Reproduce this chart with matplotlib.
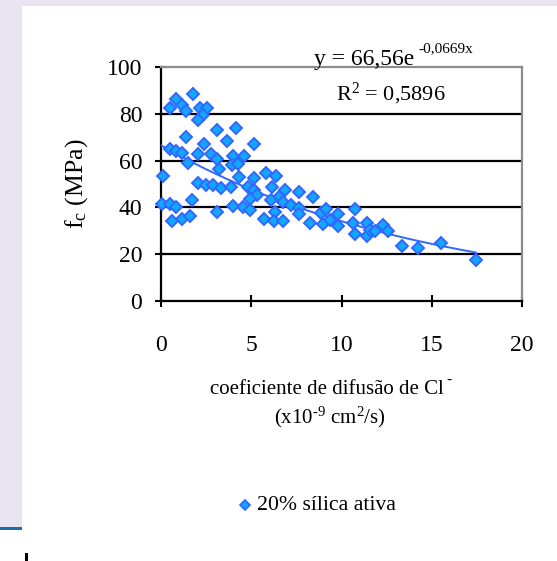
import numpy as np
import matplotlib
matplotlib.use("Agg")
import matplotlib.pyplot as plt
from matplotlib.patches import Rectangle
from matplotlib.lines import Line2D

# Chloride diffusion coefficient (x10^-9 cm2/s) vs compressive strength fc (MPa)
diff_coef = [
    1.80, 0.82, 0.48, 1.15, 1.38, 2.15, 2.56, 2.30, 2.07, 3.10,
    4.14, 1.38, 2.40, 3.66, 5.15, 0.48, 0.83, 1.17, 2.07, 2.76,
    3.09, 4.00, 4.60, 1.52, 3.95, 4.24, 3.20, 0.13, 4.33, 5.15,
    5.82, 6.38, 2.06, 2.52, 2.86, 3.31, 3.90, 4.80, 5.15, 6.17,
    6.85, 5.30, 4.92, 6.54, 6.12, 7.66, 8.43, 1.70, 0.04, 0.48,
    0.85, 4.00, 4.55, 4.92, 6.76, 7.22, 7.64, 7.66, 8.88, 9.13,
    3.09, 6.30, 9.82, 0.59, 1.14, 1.60, 5.73, 6.27, 6.76, 8.23,
    8.99, 9.36, 9.81, 10.73, 10.64, 10.75, 11.42, 11.42, 11.60, 11.88,
    12.30, 12.58, 13.36, 14.25, 15.54, 17.44,
]
fc = [
    88.5, 86.5, 82.3, 83.8, 81.0, 82.5, 82.5, 79.5, 77.2, 73.1,
    74.1, 70.0, 67.1, 68.3, 67.0, 65.0, 64.1, 63.1, 63.0, 63.0,
    60.6, 61.8, 61.8, 59.0, 58.0, 58.6, 56.2, 53.5, 52.9, 52.6,
    54.6, 53.5, 50.5, 49.6, 49.6, 48.5, 48.7, 48.7, 47.3, 48.7,
    47.5, 45.1, 43.5, 44.5, 43.3, 46.5, 44.5, 43.3, 41.3, 41.3,
    40.3, 40.5, 40.3, 39.0, 42.1, 41.0, 39.6, 37.1, 37.5, 39.3,
    38.2, 38.2, 37.3, 34.2, 35.0, 36.2, 35.1, 34.2, 34.2, 33.3,
    33.1, 34.5, 32.1, 39.3, 33.5, 28.7, 33.3, 27.9, 30.2, 30.0,
    32.3, 29.8, 23.6, 22.5, 25.0, 17.5,
]

# Exponential trend line: y = a * exp(b * x)
trend_a = 66.56
trend_b = -0.0669
trend_eq = "y = 66,56e"
trend_exp = "-0,0669x"
r_squared = "0,5896"
series_name = "20% sílica ativa"

x_ticks = [0, 5, 10, 15, 20]
y_ticks = [0, 20, 40, 60, 80, 100]

W, H = 557, 561
plt.rcParams["font.family"] = ["Liberation Serif", "DejaVu Serif"]
plt.rcParams["mathtext.fontset"] = "custom"
plt.rcParams["mathtext.rm"] = "Liberation Serif"
plt.rcParams["mathtext.it"] = "Liberation Serif:italic"

fig = plt.figure(figsize=(W / 100, H / 100), dpi=100)
fig.patch.set_facecolor("white")


def fx(px):
    return px / W


def fy(py):
    return 1 - py / H


lavender = "#E8E4F2"
marker_fill = "#10A8FF"
marker_edge = "#3366FF"

# Page frame around the chart
fig.patches.append(Rectangle((0, fy(6)), 1, 6 / H, transform=fig.transFigure,
                             facecolor=lavender, edgecolor="none", zorder=0))
fig.patches.append(Rectangle((0, fy(528)), fx(22), 528 / H, transform=fig.transFigure,
                             facecolor=lavender, edgecolor="none", zorder=0))
fig.patches.append(Rectangle((0, fy(530)), fx(22), 3 / H, transform=fig.transFigure,
                             facecolor="#1F6BA5", edgecolor="none", zorder=1))
fig.patches.append(Rectangle((fx(25), fy(561)), fx(3), 8 / H, transform=fig.transFigure,
                             facecolor="black", edgecolor="none", zorder=1))

ax = fig.add_axes([fx(161), fy(301), fx(522 - 161), (301 - 67) / H])
ax.set_xlim(0, 20)
ax.set_ylim(0, 100)

fs = 16
tick_fs = 17
ax.set_xticks(x_ticks)
ax.set_yticks(y_ticks)
ax.tick_params(axis="both", direction="inout", length=9, width=1.5, color="black",
               labelsize=tick_fs)
ax.tick_params(axis="y", pad=9)
ax.tick_params(axis="x", pad=20)

for y in y_ticks[1:-1]:
    ax.axhline(y, color="black", lw=1.6, zorder=1)

for side in ("left", "bottom"):
    ax.spines[side].set_color("black")
    ax.spines[side].set_linewidth(1.6)
for side in ("top", "right"):
    ax.spines[side].set_color("#8C8C8C")
    ax.spines[side].set_linewidth(1.6)

xs = np.linspace(0, max(diff_coef), 200)
ax.plot(xs, trend_a * np.exp(trend_b * xs), color=marker_edge, lw=1.4, zorder=3)
ax.plot(diff_coef, fc, linestyle="none", marker="D", markersize=6,
        markerfacecolor=marker_fill, markeredgecolor=marker_edge, markeredgewidth=1.4,
        zorder=4, clip_on=False)

# Trend equation and R²
fig.text(fx(314), fy(65), trend_eq, fontsize=17, ha="left", va="baseline")
fig.text(fx(418), fy(52), trend_exp, fontsize=11, ha="left", va="baseline")
fig.text(fx(391), fy(94), r"R$^{2}$ = " + r_squared, fontsize=fs,
         ha="center", va="center")

# Axis titles
fig.text(fx(77), fy(184), r"f$_{\mathrm{c}}$ (MPa)", fontsize=18.5, rotation=90,
         ha="center", va="center")
fig.text(fx(210), fy(394), "coeficiente de difusão de Cl", fontsize=15,
         ha="left", va="baseline")
fig.text(fx(446), fy(384), "-", fontsize=11, ha="left", va="baseline")
fig.text(fx(330), fy(417), r"(x10$^{\text{-9}}$ cm$^{2}$/s)", fontsize=15,
         ha="center", va="center")

# Legend
fig.add_artist(Line2D([fx(245)], [fy(505)], transform=fig.transFigure, marker="D",
                      markersize=5, markerfacecolor=marker_fill,
                      markeredgecolor=marker_edge, markeredgewidth=1.2, linestyle="none"))
fig.text(fx(257), fy(505), series_name, fontsize=15.7, ha="left", va="center")

fig.savefig("out.png", dpi=100)
